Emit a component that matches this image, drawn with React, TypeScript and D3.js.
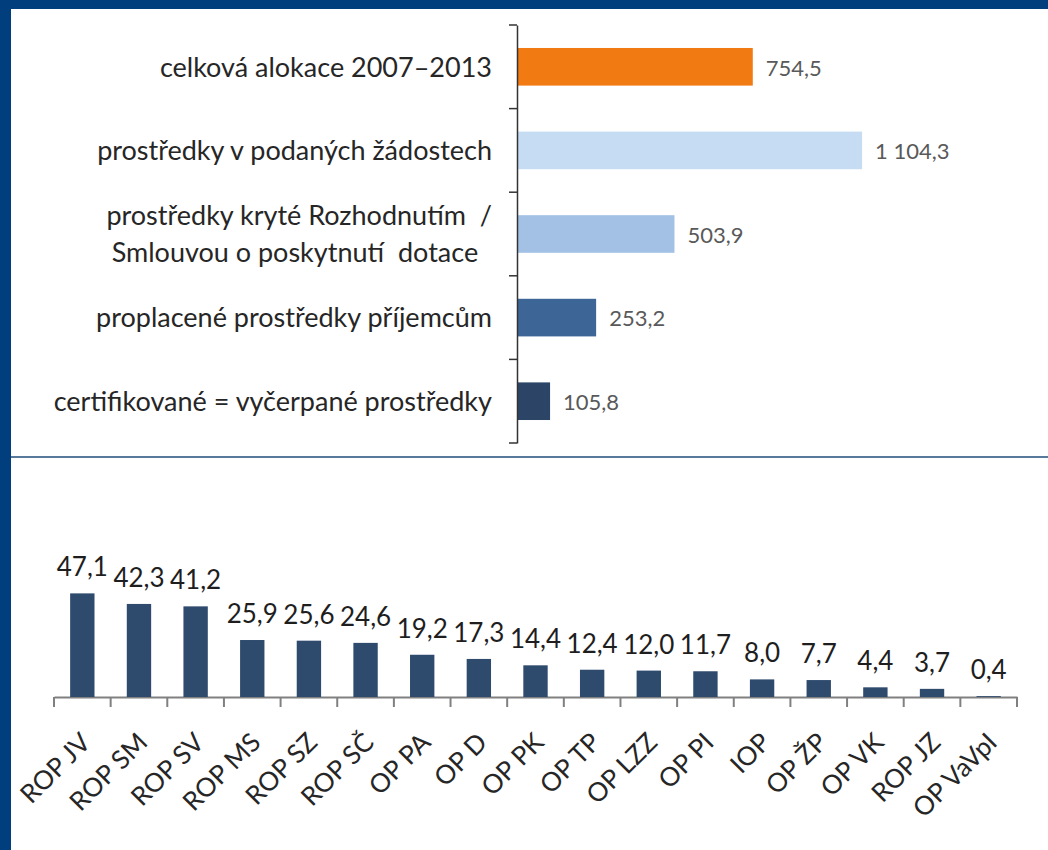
import React, { useEffect, useRef } from "react";
import * as d3 from "d3";

// top chart: allocation stages (mld. Kč)
const stageLabels = [
  ["celková alokace 2007–2013"],
  ["prostředky v podaných žádostech"],
  ["prostředky kryté Rozhodnutím  /", "Smlouvou o poskytnutí  dotace  "],
  ["proplacené prostředky příjemcům"],
  ["certifikované = vyčerpané prostředky"],
];
const stageValues = [754.5, 1104.3, 503.9, 253.2, 105.8];
const stageColors = ["#f27a13", "#c6dcf2", "#a2c1e5", "#3d6696", "#2c4567"];

// bottom chart: drawing by programme (%)
const programmes = [
  "ROP JV", "ROP SM", "ROP SV", "ROP MS", "ROP SZ", "ROP SČ", "OP PA", "OP D", "OP PK",
  "OP TP", "OP LZZ", "OP PI", "IOP", "OP ŽP", "OP VK", "ROP JZ", "OP VaVpI",
];
const programmeValues = [47.1, 42.3, 41.2, 25.9, 25.6, 24.6, 19.2, 17.3, 14.4, 12.4, 12.0, 11.7, 8.0, 7.7, 4.4, 3.7, 0.4];

const W = 1048;
const H = 850;
const FONT = "Lato, 'Open Sans', sans-serif";

const cz = d3.formatLocale({ decimal: ",", thousands: " ", grouping: [3], currency: ["", " Kč"] });
const fmt = cz.format(",.1f");

export default function App() {
  const ref = useRef<SVGSVGElement | null>(null);

  useEffect(() => {
    const svg = d3.select(ref.current);
    svg.selectAll("*").remove();

    // frame
    svg.append("rect").attr("width", W).attr("height", H).attr("fill", "#ffffff");
    svg.append("rect").attr("x", 0).attr("y", 0).attr("width", W).attr("height", 9).attr("fill", "#003e7e");
    svg.append("rect").attr("x", 0).attr("y", 0).attr("width", 11).attr("height", H).attr("fill", "#003e7e");
    svg.append("line")
      .attr("x1", 11).attr("x2", W).attr("y1", 457).attr("y2", 457)
      .attr("stroke", "#1f4e79").attr("stroke-width", 1.5);

    // ---- top: horizontal bars
    const y = d3.scaleBand<number>()
      .domain(stageValues.map((d, i) => i))
      .range([25, 443])
      .paddingInner(0.55)
      .paddingOuter(0.275);
    const x = d3.scaleLinear().domain([0, 1200]).range([517, 892]);

    const top = svg.append("g");
    top.selectAll("rect.bar")
      .data(stageValues)
      .enter()
      .append("rect")
      .attr("class", "bar")
      .attr("x", x(0))
      .attr("y", (d, i) => y(i)!)
      .attr("width", (d) => x(d) - x(0))
      .attr("height", y.bandwidth())
      .attr("fill", (d, i) => stageColors[i]);

    top.selectAll("text.val")
      .data(stageValues)
      .enter()
      .append("text")
      .attr("class", "val")
      .attr("x", (d) => x(d) + 13)
      .attr("y", (d, i) => y(i)! + y.bandwidth() / 2)
      .attr("dy", "0.4em")
      .attr("font-family", FONT)
      .attr("font-size", 22)
      .attr("fill", "#595959")
      .text((d) => fmt(d));

    const yAxis = d3.axisLeft(y).tickSize(0).tickFormat(() => "");
    top.append("g")
      .attr("transform", `translate(${x(0)},0)`)
      .call(yAxis)
      .call((g) => g.select(".domain").attr("stroke", "#333333").attr("stroke-width", 1.5));

    // band boundary ticks
    const step = y.step();
    const bounds = d3.range(stageValues.length + 1).map((i) => y(0)! - (step - y.bandwidth()) / 2 + i * step);
    top.selectAll("line.tick")
      .data(bounds)
      .enter()
      .append("line")
      .attr("x1", x(0) - 8)
      .attr("x2", x(0))
      .attr("y1", (d) => d)
      .attr("y2", (d) => d)
      .attr("stroke", "#333333")
      .attr("stroke-width", 1.5);

    stageLabels.forEach((lines, i) => {
      const cy = y(i)! + y.bandwidth() / 2;
      const lh = 37;
      const t = top.append("text")
        .attr("x", 492)
        .attr("text-anchor", "end")
        .attr("font-family", FONT)
        .attr("font-size", 27)
        .attr("fill", "#262626")
        .style("white-space", "pre");
      lines.forEach((ln, j) => {
        t.append("tspan")
          .attr("x", 492)
          .attr("y", cy + (j - (lines.length - 1) / 2) * lh)
          .attr("dy", "0.36em")
          .text(ln);
      });
    });

    // ---- bottom: vertical bars
    const bx = d3.scaleBand<string>()
      .domain(programmes)
      .range([54, 1017])
      .paddingInner(0.57)
      .paddingOuter(0.285);
    const by = d3.scaleLinear().domain([0, 50]).range([697, 587]);

    const bot = svg.append("g");

    const xAxis = d3.axisBottom(bx).tickSize(0).tickFormat(() => "");
    bot.append("g")
      .attr("transform", `translate(0,${by(0)})`)
      .call(xAxis)
      .call((g) => g.select(".domain").attr("stroke", "#808080").attr("stroke-width", 2));

    const bstep = bx.step();
    const bbounds = d3.range(programmes.length + 1).map((i) => 54 + i * bstep);
    bot.selectAll("line.btick")
      .data(bbounds)
      .enter()
      .append("line")
      .attr("x1", (d) => d)
      .attr("x2", (d) => d)
      .attr("y1", by(0))
      .attr("y2", by(0) + 10)
      .attr("stroke", "#808080")
      .attr("stroke-width", 2);

    bot.selectAll("rect.pbar")
      .data(programmeValues)
      .enter()
      .append("rect")
      .attr("class", "pbar")
      .attr("x", (d, i) => bx(programmes[i])!)
      .attr("y", (d) => by(d))
      .attr("width", bx.bandwidth())
      .attr("height", (d) => by(0) - by(d))
      .attr("fill", "#2e4a6c");

    bot.selectAll("text.pval")
      .data(programmeValues)
      .enter()
      .append("text")
      .attr("class", "pval")
      .attr("x", (d, i) => bx(programmes[i])! + bx.bandwidth() / 2)
      .attr("y", (d) => by(d) - 17)
      .attr("text-anchor", "middle")
      .attr("font-family", FONT)
      .attr("font-size", 26)
      .attr("fill", "#1e1e1e")
      .text((d) => fmt(d));

    bot.selectAll("text.plab")
      .data(programmes)
      .enter()
      .append("text")
      .attr("class", "plab")
      .attr("transform", (d) => `translate(${bx(d)! + bx.bandwidth() / 2 + 10},${by(0) + 47}) rotate(-45)`)
      .attr("text-anchor", "end")
      .attr("font-family", FONT)
      .attr("font-size", 26)
      .attr("fill", "#262626")
      .text((d) => d);
  }, []);

  return (
    <svg
      ref={ref}
      width={W}
      height={H}
      style={{ position: "absolute", left: 0, top: 0, display: "block" }}
    />
  );
}
